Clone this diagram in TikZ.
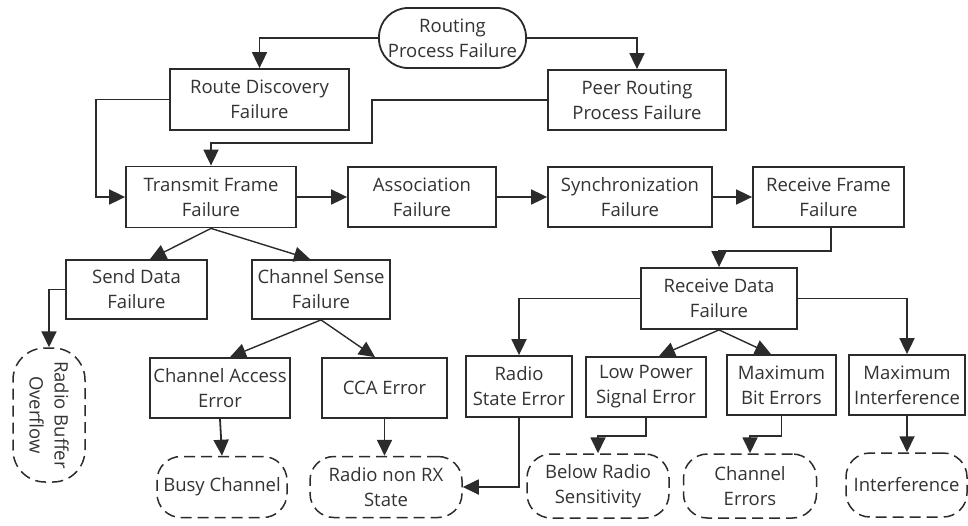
\documentclass[tikz,border=0pt]{standalone}
\usepackage{fontspec}
\setmainfont{Open Sans}
\usetikzlibrary{arrows.meta}
\definecolor{ink}{HTML}{2B2B2B}
\definecolor{txt}{HTML}{333333}
\tikzset{
  every node/.style={font=\fontsize{18.5}{25}\selectfont, text=txt},
  box/.style={draw=ink, line width=1.8pt, align=center, inner sep=0pt, fill=white},
  cause/.style={draw=ink, line width=1.5pt, dash pattern=on 11pt off 6pt, align=center, inner sep=0pt, rounded corners=24pt},
  arr/.style={draw=ink, line width=1.8pt, -{Triangle[length=16pt,width=15pt]}},
  darr/.style={draw=ink, line width=1.4pt, -{Triangle[length=16pt,width=15pt]}},
}
\begin{document}
\begin{tikzpicture}[x=1pt,y=-1pt]
\useasboundingbox (0,0) rectangle (968,525);
% nodes
\node[box, rounded corners=29pt, minimum width=147pt, minimum height=60pt] (rpf) at (452.5,38) {Routing\\Process Failure};
\node[box, minimum width=179pt, minimum height=61pt] (rd) at (259.5,99.5) {Route Discovery\\Failure};
\node[box, minimum width=178pt, minimum height=60pt] (pr) at (637,100) {Peer Routing\\Process Failure};
\node[box, minimum width=170pt, minimum height=61pt] (tf) at (211,197) {Transmit Frame\\Failure};
\node[box, minimum width=148pt, minimum height=60pt] (as) at (422,197) {Association\\Failure};
\node[box, minimum width=164pt, minimum height=60pt] (sy) at (630,197) {Synchronization\\Failure};
\node[box, minimum width=151pt, minimum height=60pt] (rf) at (828.5,197) {Receive Frame\\Failure};
\node[box, minimum width=141pt, minimum height=59pt] (sd) at (136.5,289.5) {Send Data\\Failure};
\node[box, minimum width=138pt, minimum height=59pt] (cs) at (321,289.5) {Channel Sense\\Failure};
\node[box, minimum width=156pt, minimum height=61pt] (rdf) at (719,298.5) {Receive Data\\Failure};
\node[box, minimum width=140pt, minimum height=60pt] (cae) at (220,388) {Channel Access\\Error};
\node[box, minimum width=125pt, minimum height=60pt] (cca) at (384.5,388) {CCA Error};
\node[box, minimum width=106pt, minimum height=61pt] (rse) at (519,386.5) {Radio\\State Error};
\node[box, minimum width=120pt, minimum height=60pt] (lpse) at (646,387) {Low Power\\Signal Error};
\node[box, minimum width=109pt, minimum height=60pt] (mbe) at (781.5,385) {Maximum\\Bit Errors};
\node[box, minimum width=116pt, minimum height=60pt] (mi) at (907,385) {Maximum\\Interference};
% dashed causes
\node[cause, rotate=-90, rounded corners=32pt, minimum width=134pt, minimum height=72pt] (rbo) at (49,415) {Radio Buffer\\Overflow};
\node[cause, minimum width=130pt, minimum height=61pt] (bc) at (222,487) {Busy Channel};
\node[cause, minimum width=152pt, minimum height=61pt] (rnx) at (386,487) {Radio non RX\\State};
\node[cause, minimum width=142pt, minimum height=64pt] (brs) at (598,486) {Below Radio\\Sensitivity};
\node[cause, minimum width=133pt, minimum height=64pt] (ce) at (750,486) {Channel\\Errors};
\node[cause, minimum width=121pt, minimum height=64pt] (int) at (906.5,485) {Interference};
% connectors
\draw[arr] (rpf.west) -| (rd.north);
\draw[arr] (rpf.east) -| (pr.north);
\draw[arr] (rd.west) -- ++(-73,0) |- (tf.west);
\draw[arr] (pr.west) -| ++(-175,43) -| (tf.north);
\draw[arr] (tf.east) -- (as.west);
\draw[arr] (as.east) -- (sy.west);
\draw[arr] (sy.east) -- (rf.west);
\draw[arr] ([xshift=2.5pt]rf.south) -- ++(0,23) -| (rdf.north);
\draw[darr] (tf.south) -- ([xshift=13.5pt]sd.north);
\draw[darr] (tf.south) -- ([xshift=-11pt]cs.north);
\draw[arr] (sd.west) -| (rbo.west);
\draw[darr] (cs.south) -- ([xshift=10pt]cae.north);
\draw[darr] (cs.south) -- ([xshift=-9.5pt]cca.north);
\draw[arr] (cae.south) -- (bc.north);
\draw[arr] (cca.south) -- (cca.south |- rnx.north);
\draw[arr] (rse.south) |- (rnx.east);
\draw[arr] (rdf.west) -| (rse.north);
\draw[arr] (rdf.east) -| (mi.north);
\draw[darr] (rdf.south) -- ([xshift=13pt]lpse.north);
\draw[darr] (rdf.south) -- ([xshift=-10.5pt]mbe.north);
\draw[arr] (lpse.south) -- ++(0,18) -| (brs.north);
\draw[arr] (mbe.south) -- ++(0,20) -| (ce.north);
\draw[arr] (mi.south) -- (mi.south |- int.north);
\end{tikzpicture}
\end{document}
